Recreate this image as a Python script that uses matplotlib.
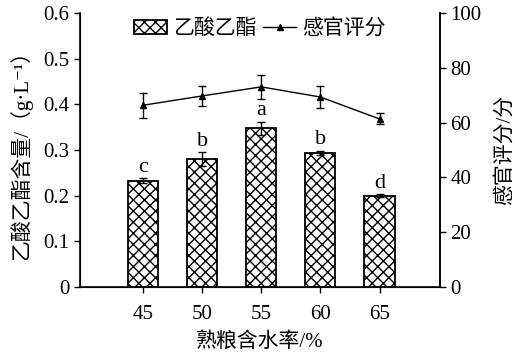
import matplotlib.pyplot as plt
import numpy as np
from matplotlib.patches import Patch
from matplotlib.lines import Line2D

plt.rcParams['font.family'] = ['Liberation Serif', 'Noto Sans CJK SC', 'DejaVu Sans']
plt.rcParams['hatch.linewidth'] = 1.0

# data
moisture = ['45', '50', '55', '60', '65']
ester = [0.233, 0.280, 0.347, 0.293, 0.200]
ester_err = [0.005, 0.015, 0.015, 0.005, 0.003]
letters = ['c', 'b', 'a', 'b', 'd']
score = [66.3, 69.7, 73.0, 69.3, 61.3]
score_err = [4.5, 3.5, 4.5, 4.0, 2.0]

fig = plt.figure(figsize=(5.15, 3.57), dpi=100)
ax = fig.add_axes([0.155, 0.196, 0.699, 0.768])
x = np.arange(len(moisture))

ax.bar(x, ester, width=0.51, color='white', edgecolor='black', hatch='xxx',
       linewidth=1.3, yerr=ester_err, capsize=3,
       error_kw=dict(elinewidth=1, capthick=1, ecolor='black'))
for xi, v, e, t in zip(x, ester, ester_err, letters):
    ax.annotate(t, (xi, v + e), xytext=(0, 1), textcoords='offset points',
                ha='center', va='bottom', fontsize=16)

ax.set_xlim(-1.07, 5.02)
ax.set_ylim(0, 0.6)
ax.set_yticks(np.arange(0, 0.61, 0.1))
ax.set_yticklabels(['0', '0.1', '0.2', '0.3', '0.4', '0.5', '0.6'])
ax.set_xticks(x)
ax.set_xticklabels(moisture)
ax.set_xlabel('熟粮含水率/%', fontsize=15, labelpad=6)
ax.set_ylabel('乙酸乙酯含量/（g·L⁻¹）', fontsize=15, labelpad=8)
ax.tick_params(labelsize=15, direction='out', length=4, width=1)
ax.tick_params(axis='x', pad=9)
ax.spines['top'].set_visible(False)
for s in ['left', 'bottom', 'right']:
    ax.spines[s].set_linewidth(1.2)

ax2 = ax.twinx()
ax2.errorbar(x, score, yerr=score_err, color='black', linewidth=1,
             marker='^', markersize=5, capsize=3, elinewidth=1, capthick=1)
ax2.set_ylim(0, 100)
ax2.set_yticks(np.arange(0, 101, 20))
ax2.set_ylabel('感官评分/分', fontsize=15, labelpad=10)
ax2.tick_params(labelsize=15, direction='out', length=4, width=1)
ax2.spines['top'].set_visible(False)
ax2.spines['right'].set_linewidth(1.2)

handles = [Patch(facecolor='white', edgecolor='black', hatch='xxx', linewidth=1.3),
           Line2D([0], [0], color='black', marker='^', markersize=5, linewidth=1)]
ax.legend(handles, ['乙酸乙酯', '感官评分'], loc='upper center',
          bbox_to_anchor=(0.5, 1.045), ncol=2, frameon=False, fontsize=15,
          handlelength=1.6, handletextpad=0.3, columnspacing=0.3)

fig.savefig('out.png', dpi=100)
